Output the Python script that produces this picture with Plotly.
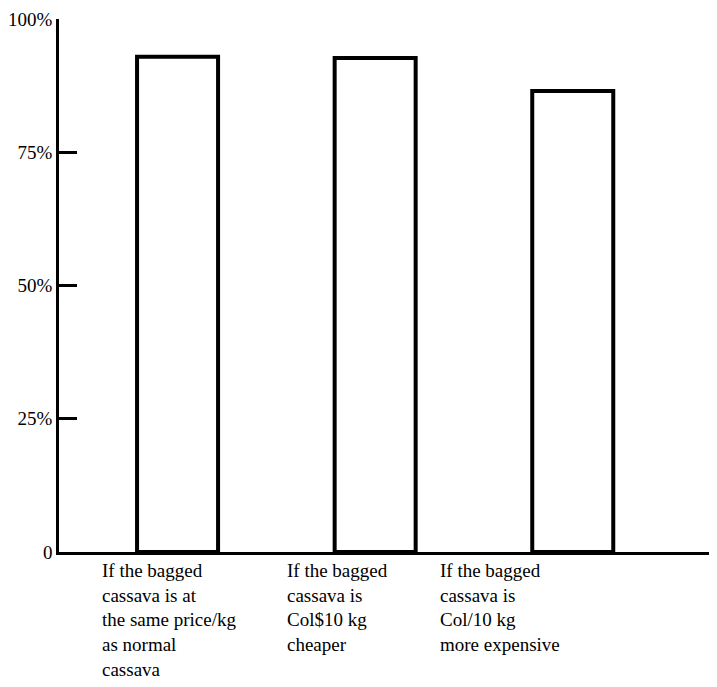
import plotly.graph_objects as go

categories = [
    "If the bagged<br>cassava is at<br>the same price/kg<br>as normal<br>cassava",
    "If the bagged<br>cassava is<br>Col$10 kg<br>cheaper",
    "If the bagged<br>cassava is<br>Col/10 kg<br>more expensive",
]
values = [92.9, 92.7, 86.5]
tick_vals = [0, 25, 50, 75, 100]
tick_text = ["0", "25%", "50%", "75%", "100%"]
label_offsets = [-0.392, 0.544, 1.319]

FONT = "Liberation Serif"

fig = go.Figure()
fig.add_trace(go.Bar(
    x=list(range(len(values))),
    y=values,
    width=0.41,
    marker=dict(color="white", line=dict(color="black", width=4)),
    showlegend=False,
    hoverinfo="skip",
))

for off, txt in zip(label_offsets, categories):
    fig.add_annotation(
        x=off, y=0, xref="x", yref="paper",
        text=txt,
        showarrow=False,
        xanchor="left", yanchor="top", align="left",
        yshift=-6,
        font=dict(family=FONT, size=19, color="black"),
    )

fig.update_layout(
    width=709, height=679,
    margin=dict(l=51, r=0, t=11, b=135),
    paper_bgcolor="white", plot_bgcolor="white",
    font=dict(family=FONT, size=19, color="black"),
)
fig.update_xaxes(
    range=[-0.6, 2.73], showticklabels=False, ticks="",
    showgrid=False, zeroline=False,
    showline=True, linecolor="black", linewidth=2.5,
)
fig.update_yaxes(
    range=[0, 100], tickvals=tick_vals, ticktext=tick_text,
    ticks="inside", ticklen=18, tickwidth=2.5, tickcolor="black",
    showgrid=False, zeroline=False,
    showline=True, linecolor="black", linewidth=2.5,
    tickfont=dict(family=FONT, size=19, color="black"),
)

fig.write_html("out.html")
